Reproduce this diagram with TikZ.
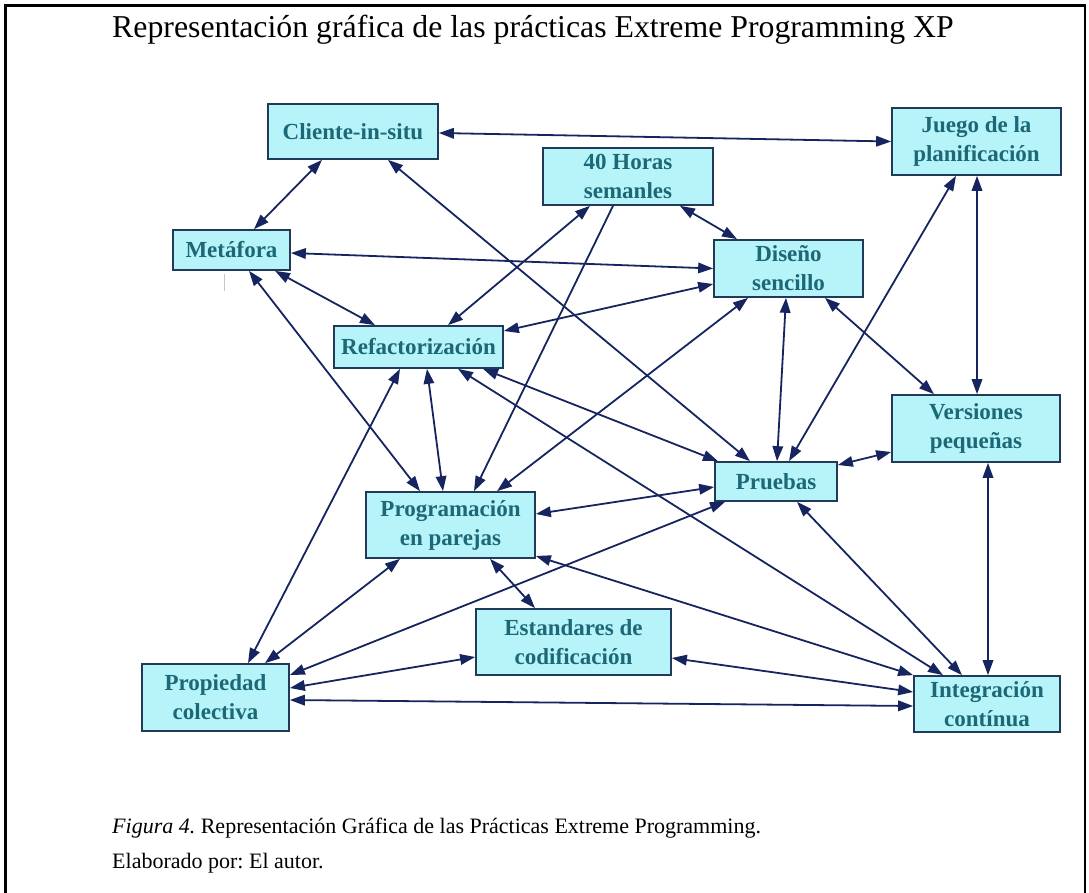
\documentclass[tikz,border=0pt]{standalone}
\usepackage{fontspec}
\setmainfont{Liberation Serif}
\usetikzlibrary{arrows.meta}
\frenchspacing

\definecolor{boxfill}{RGB}{182,244,250}
\definecolor{boxline}{RGB}{32,58,88}
\definecolor{boxtext}{RGB}{28,104,118}
\definecolor{linkcol}{RGB}{22,36,96}

\begin{document}
\begin{tikzpicture}[x=1pt,y=-1pt,
  practice/.style={draw=boxline, line width=1.7pt, fill=boxfill, inner sep=0pt,
    align=center, text=boxtext, font=\fontsize{23}{29}\selectfont\bfseries},
  tip/.tip={Triangle[length=15pt,width=10.5pt]},
  link/.style={draw=linkcol, line width=1.8pt, tip-tip},
  onelink/.style={draw=linkcol, line width=1.8pt, -tip},
  frame/.style={draw=black, line width=2.5pt}]

\path[use as bounding box] (0,0) rectangle (1089,893);

% page frame (open at the bottom)
\draw[frame] (5.5,893) -- (5.5,5.5) -- (1085,5.5) -- (1085,893);

% heading and caption
\node[anchor=base west, font=\fontsize{31.8}{36}\selectfont, inner sep=0pt] (title) at (112,38)
  {Representación gráfica de las prácticas Extreme Programming XP};
\node[anchor=base west, font=\fontsize{22}{27}\selectfont, inner sep=0pt] (cap1) at (112,833)
  {\textit{Figura 4.} Representación Gráfica de las Prácticas Extreme Programming.};
\node[anchor=base west, font=\fontsize{22}{27}\selectfont, inner sep=0pt] (cap2) at (112,868)
  {Elaborado por: El autor.};

% practices
\node[practice, minimum width=170pt, minimum height=55pt] (cli)  at (353,131.5)   {Cliente-in-situ};
\node[practice, minimum width=170pt, minimum height=57pt] (hor)  at (628,176.5)   {40 Horas\\semanles};
\node[practice, minimum width=169pt, minimum height=67pt] (jue)  at (976.5,141.5) {Juego de la\\planificación};
\node[practice, minimum width=117pt, minimum height=40pt] (met)  at (231.5,250)   {Metáfora};
\node[practice, minimum width=149pt, minimum height=57pt] (dis)  at (788.5,268.5) {Diseño\\sencillo};
\node[practice, minimum width=169pt, minimum height=42pt] (ref)  at (418.5,347)   {Refactorización};
\node[practice, minimum width=168pt, minimum height=67pt] (ver)  at (976,428.5)   {Versiones\\pequeñas};
\node[practice, minimum width=122pt, minimum height=39pt] (pru)  at (776,481.5)   {Pruebas};
\node[practice, minimum width=169pt, minimum height=66pt] (pro)  at (450.5,525)   {Programación\\en parejas};
\node[practice, minimum width=195pt, minimum height=66pt] (est)  at (573.5,642)   {Estandares de\\codificación};
\node[practice, minimum width=147pt, minimum height=67pt] (prop) at (215.5,697.5) {Propiedad\\colectiva};
\node[practice, minimum width=146pt, minimum height=56pt] (int)  at (987,704)     {Integración\\contínua};

% small grey mark below Metáfora
\draw[draw=gray!45, line width=1pt] ([xshift=-7.5pt,yshift=-3pt]met.south) -- ([xshift=-7.5pt,yshift=-20pt]met.south);

% relations between practices
\draw[link] ([yshift=-1.5pt]cli.east) -- (jue.west);
\draw[link] ([xshift=-31pt]cli.south) -- ([xshift=22.5pt]met.north);
\draw[link] ([xshift=35pt]cli.south) -- ([xshift=-26pt]pru.north);
\draw[link] ([yshift=-3pt]met.east) -- (dis.west);
\draw[link] ([xshift=43.5pt]met.south) -- ([xshift=-43.5pt]ref.north);
\draw[link] ([xshift=17.5pt]met.south) -- ([xshift=-30.5pt]pro.north);
\draw[link] ([xshift=-38pt]hor.south) -- ([xshift=29.5pt]ref.north);
\draw[onelink] ([xshift=-15pt]hor.south) -- ([xshift=23.5pt]pro.north);
\draw[link] ([xshift=52pt]hor.south) -- ([xshift=-51.5pt]dis.north);
\draw[link] ([yshift=-15.5pt]dis.west) -- ([yshift=16pt]ref.east);
\draw[link] ([xshift=-40.5pt]dis.south) -- ([xshift=46.5pt]pro.north);
\draw[link] ([xshift=-2.5pt]dis.south) -- ([xshift=1pt]pru.north);
\draw[link] ([xshift=36.5pt]dis.south) -- ([xshift=-42pt]ver.north);
\draw[link] ([xshift=-20.5pt]jue.south) -- ([xshift=13pt]pru.north);
\draw[link] ([xshift=0.5pt]jue.south) -- ([xshift=1pt]ver.north);
\draw[link] ([yshift=-23.5pt]ver.west) -- ([yshift=16.5pt]pru.east);
\draw[link] ([xshift=12pt]ver.south) -- ([xshift=1pt]int.north);
\draw[link] ([xshift=21pt]pru.south) -- ([xshift=-25pt]int.north);
\draw[link] ([xshift=64.5pt]ref.south) -- ([xshift=-58pt]pru.north);
\draw[link] ([xshift=39.5pt]ref.south) -- ([xshift=-44pt]int.north);
\draw[link] ([yshift=11pt]pro.east) -- ([yshift=-5.5pt]pru.west);
\draw[link] ([xshift=39.5pt]pro.south) -- ([xshift=-38.5pt]est.north);
\draw[link] ([xshift=-50.5pt]pro.south) -- ([xshift=49.5pt]prop.north);
\draw[link] ([yshift=-31pt]pro.east) -- (int.north west);
\draw[link] ([xshift=32.5pt]prop.north) -- ([xshift=-18.5pt]ref.south);
\draw[link] ([yshift=22.5pt]prop.east) -- ([xshift=-51pt]pru.south);
\draw[link] ([yshift=9.5pt]prop.east) -- ([yshift=-15pt]est.west);
\draw[link] ([yshift=-2.5pt]prop.east) -- ([yshift=-2pt]int.west);
\draw[link] ([yshift=-16pt]est.east) -- ([yshift=12pt]int.west);
\draw[link] ([xshift=-7.5pt]pro.north) -- ([xshift=8.5pt]ref.south);

\end{tikzpicture}
\end{document}
